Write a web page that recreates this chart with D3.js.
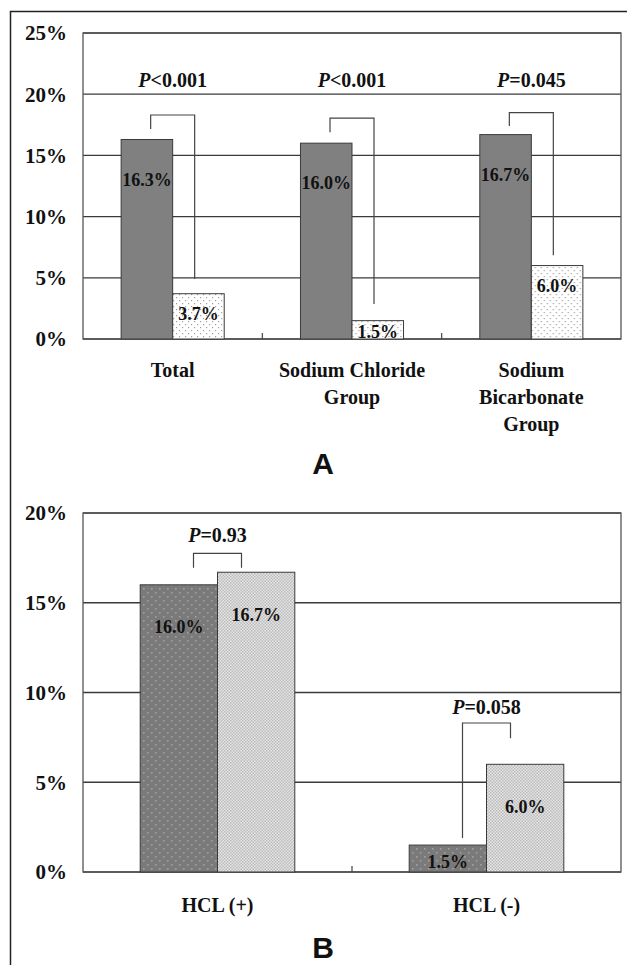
<!DOCTYPE html>
<html lang="en">
<head>
<meta charset="UTF-8" />
<title>Contrast nephropathy incidence</title>
<script src="https://cdn.jsdelivr.net/npm/d3@7"></script>
<style>
  html, body { margin: 0; padding: 0; background: #fff; }
  svg text { font-family: "Liberation Serif", "Times New Roman", serif; font-weight: bold; fill: #111; }
  .panel-letter { font-family: "Liberation Sans", Arial, sans-serif !important; }
</style>
</head>
<body>
<svg id="chart" width="627" height="965"></svg>

<script>
// ---- data: panel A ----
const catsA = [["Total"], ["Sodium Chloride", "Group"], ["Sodium", "Bicarbonate", "Group"]];
const darkA = [16.3, 16.0, 16.7];
const lightA = [3.7, 1.5, 6.0];
const pTextA = [["<", "0.001"], ["<", "0.001"], ["=", "0.045"]];
const pLevelA = [21.2, 21.2, 21.2];
const bracketTopA = [18.3, 18.05, 18.5];
const bracketLeftA = [17.15, 16.9, 17.4];
const bracketRightA = [4.9, 2.85, 6.85];
const ticksA = [0, 5, 10, 15, 20, 25];

// ---- data: panel B ----
const catsB = [["HCL (+)"], ["HCL (-)"]];
const darkB = [16.0, 1.5];
const lightB = [16.7, 6.0];
const pTextB = [["=", "0.93"], ["=", "0.058"]];
const pLevelB = [18.8, 9.2];
const bracketTopB = [17.75, 8.3];
const bracketLeftB = [16.95, 1.9];
const bracketRightB = [16.95, 7.45];
const ticksB = [0, 5, 10, 15, 20];

const svg = d3.select('#chart');
const defs = svg.append('defs');

// fill patterns
function dotPattern(id, bg, dot, size, r) {
  const p = defs.append('pattern').attr('id', id)
    .attr('patternUnits', 'userSpaceOnUse').attr('width', size).attr('height', size);
  p.append('rect').attr('width', size).attr('height', size).attr('fill', bg);
  p.append('rect').attr('x', 0).attr('y', 0).attr('width', r).attr('height', r).attr('fill', dot);
  p.append('rect').attr('x', size / 2).attr('y', size / 2).attr('width', r).attr('height', r).attr('fill', dot);
}
dotPattern('lightA', '#ffffff', '#a0a0a0', 6, 1.2);
dotPattern('darkB', '#7a7a7a', '#a0a0a0', 8, 1.6);
dotPattern('lightB', '#e4e4e4', '#bdbdbd', 3, 1.5);

// outer frame
svg.append('rect').attr('x', 10.5).attr('y', 11.5).attr('width', 630).attr('height', 970)
  .attr('fill', 'none').attr('stroke', '#222').attr('stroke-width', 1.5);

function panel(o) {
  const g = svg.append('g');
  const y = d3.scaleLinear().domain([0, o.max]).range([o.bottom, o.top]);
  const x = d3.scaleBand().domain(d3.range(o.cats.length)).range([o.left, o.right]);
  const xs = d3.scaleBand().domain(['dark', 'light']).range([0, x.bandwidth()]).paddingOuter(0.74);

  // gridlines
  g.append('g').selectAll('line').data(o.ticks).join('line')
    .attr('x1', o.left).attr('x2', o.right)
    .attr('y1', d => y(d)).attr('y2', d => y(d))
    .attr('stroke', '#3a3a3a').attr('stroke-width', 1.3);
  // plot frame
  g.append('rect').attr('x', o.left).attr('y', o.top)
    .attr('width', o.right - o.left).attr('height', o.bottom - o.top)
    .attr('fill', 'none').attr('stroke', '#555').attr('stroke-width', 1.3);

  // y tick labels
  g.append('g').selectAll('text').data(o.ticks).join('text')
    .attr('x', 67).attr('y', d => y(d)).attr('dy', '0.35em')
    .attr('text-anchor', 'end').style('font-size', '21px')
    .text(d => d + '%');

  // x category boundary ticks
  g.append('g').selectAll('line').data(d3.range(1, o.cats.length)).join('line')
    .attr('x1', d => o.left + d * x.step()).attr('x2', d => o.left + d * x.step())
    .attr('y1', o.bottom).attr('y2', o.bottom - 6)
    .attr('stroke', '#444').attr('stroke-width', 1.2);

  // bars
  const rows = o.cats.map((c, i) => ({ i, dark: o.dark[i], light: o.light[i] }));
  const grp = g.append('g').selectAll('g').data(rows).join('g')
    .attr('transform', d => `translate(${x(d.i)},0)`);
  ['dark', 'light'].forEach(k => {
    grp.append('rect')
      .attr('x', xs(k)).attr('width', xs.bandwidth())
      .attr('y', d => y(d[k])).attr('height', d => y(0) - y(d[k]))
      .attr('fill', o.fills[k]).attr('stroke', '#3a3a3a').attr('stroke-width', 1);
    grp.append('text')
      .attr('x', xs(k) + xs.bandwidth() / 2)
      .attr('y', d => Math.min(y(d[k]) + o.labelOff[k], y(0) - o.minOff))
      .attr('dy', '0.35em').attr('text-anchor', 'middle')
      .style('font-size', '18px')
      .text(d => d[k].toFixed(1) + '%');
  });

  // significance brackets
  const cx = i => x(i) + x.bandwidth() / 2;
  g.append('g').selectAll('path').data(rows).join('path')
    .attr('d', d => {
      const l = cx(d.i) - o.legHalf, r = cx(d.i) + o.legHalf;
      return `M${l},${y(o.bLeft[d.i])}V${y(o.bTop[d.i])}H${r}V${y(o.bRight[d.i])}`;
    })
    .attr('fill', 'none').attr('stroke', '#444').attr('stroke-width', 1.2);

  // p-value labels
  const pt = g.append('g').selectAll('text').data(rows).join('text')
    .attr('x', d => cx(d.i)).attr('y', d => y(o.pLevel[d.i])).attr('dy', '0.35em')
    .attr('text-anchor', 'middle').style('font-size', '20px');
  pt.append('tspan').style('font-style', 'italic').text('P');
  pt.append('tspan').text(d => o.pText[d.i][0] + o.pText[d.i][1]);

  // category labels
  g.append('g').selectAll('text').data(rows).join('text')
    .attr('x', d => cx(d.i)).attr('y', o.catY)
    .attr('text-anchor', 'middle').style('font-size', '20px')
    .selectAll('tspan').data(d => o.cats[d.i]).join('tspan')
      .attr('x', function () { return this.parentNode.getAttribute('x'); })
      .attr('dy', (d, j) => j === 0 ? 0 : 27)
      .text(d => d);

  // panel letter
  g.append('text').attr('class', 'panel-letter')
    .attr('x', 323).attr('y', o.letterY).attr('text-anchor', 'middle')
    .style('font-size', '30px').text(o.letter);
}

panel({
  cats: catsA, dark: darkA, light: lightA, ticks: ticksA, max: 25,
  left: 83, right: 621, top: 33, bottom: 339,
  fills: { dark: '#808080', light: 'url(#lightA)' },
  labelOff: { dark: 40, light: 20 }, minOff: 7,
  legHalf: 22, bTop: bracketTopA, bLeft: bracketLeftA, bRight: bracketRightA,
  pText: pTextA, pLevel: pLevelA, catY: 377, letter: 'A', letterY: 474
});

panel({
  cats: catsB, dark: darkB, light: lightB, ticks: ticksB, max: 20,
  left: 83, right: 621, top: 513, bottom: 872,
  fills: { dark: 'url(#darkB)', light: 'url(#lightB)' },
  labelOff: { dark: 42, light: 42 }, minOff: 10,
  legHalf: 24, bTop: bracketTopB, bLeft: bracketLeftB, bRight: bracketRightB,
  pText: pTextB, pLevel: pLevelB, catY: 912, letter: 'B', letterY: 958
});
</script>
</body>
</html>
